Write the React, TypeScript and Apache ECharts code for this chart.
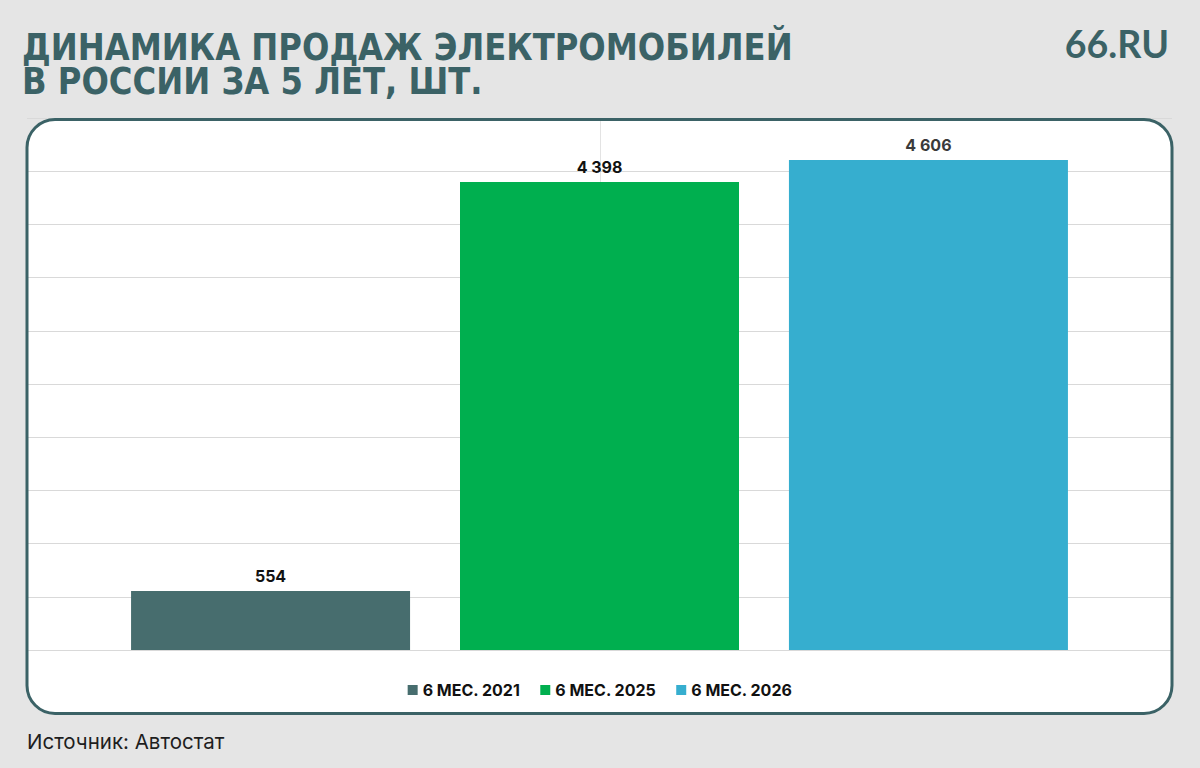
import { useEffect, useRef } from 'react';
import * as echarts from 'echarts';

const seriesNames = ['6 МЕС. 2021', '6 МЕС. 2025', '6 МЕС. 2026'];
const salesValues = [554, 4398, 4606];
const barColors = ['#476d6e', '#00af4f', '#36aecf'];
const labelColors = ['#111111', '#111111', '#3a3a3a'];

const titleLines = ['ДИНАМИКА ПРОДАЖ ЭЛЕКТРОМОБИЛЕЙ', 'В РОССИИ ЗА 5 ЛЕТ, ШТ.'];
const brandText = '66.RU';
const sourceText = 'Источник: Автостат';

const teal = '#3b6266';

export default function App() {
  const chartRef = useRef<HTMLDivElement>(null);

  useEffect(() => {
    document.body.style.margin = '0';
    if (!chartRef.current) return;
    const chart = echarts.init(chartRef.current, undefined, { renderer: 'svg' });

    const series = seriesNames.map((name, i) => ({
      name,
      type: 'bar' as const,
      data: [salesValues[i]],
      barWidth: 279,
      barGap: '17.9%',
      itemStyle: { color: barColors[i] },
      z: 5,
      label: {
        show: true,
        position: 'top' as const,
        distance: 7,
        color: labelColors[i],
        fontSize: 16,
        fontWeight: 'bold' as const,
        fontFamily: 'Inter, sans-serif',
        formatter: (p: any) => String(p.value).replace(/\B(?=(\d{3})+(?!\d))/g, ' '),
      },
    }));

    // title lines drawn separately, squeezed horizontally to look condensed
    const titleTexts = titleLines.map((line, i) => ({
      type: 'text' as const,
      x: 22,
      y: 29 + i * 34,
      scaleX: 0.872,
      style: {
        text: line,
        fill: teal,
        fontSize: 37,
        fontWeight: 'bold',
        fontFamily: '"DejaVu Sans", sans-serif',
      },
    }));

    chart.setOption({
      animation: false,
      backgroundColor: '#e5e5e5',
      grid: { left: 27, right: 28, top: 118, bottom: 118 },
      xAxis: {
        type: 'category',
        data: [''],
        axisLine: { show: false },
        axisTick: { show: false },
        axisLabel: { show: false },
      },
      yAxis: {
        type: 'value',
        min: 0,
        max: 5000,
        interval: 500,
        axisLabel: { show: false },
        axisLine: { show: false },
        axisTick: { show: false },
        splitLine: { lineStyle: { color: '#d9d9d9', width: 1 } },
      },
      legend: {
        data: seriesNames,
        top: 677,
        left: 'center',
        itemWidth: 10,
        itemHeight: 10,
        itemGap: 20,
        icon: 'rect',
        textStyle: {
          fontSize: 16,
          fontWeight: 'bold',
          color: '#111111',
          fontFamily: 'Inter, sans-serif',
        },
      },
      graphic: [
        {
          type: 'rect',
          z: -10,
          shape: { x: 27, y: 119.5, width: 1145, height: 594, r: 28 },
          style: { fill: '#ffffff' },
        },
        {
          type: 'line',
          z: -5,
          shape: { x1: 600.5, y1: 120, x2: 600.5, y2: 650 },
          style: { stroke: '#e3e3e3', lineWidth: 1 },
        },
        {
          type: 'rect',
          z: 100,
          shape: { x: 27, y: 119.5, width: 1145, height: 594, r: 28 },
          style: { fill: 'none', stroke: teal, lineWidth: 3 },
        },
        ...titleTexts,
        {
          type: 'text',
          right: 31,
          top: 24,
          style: {
            text: brandText,
            fill: teal,
            fontSize: 37.5,
            fontWeight: 'bold',
            fontFamily: 'Lato, "Open Sans", sans-serif',
          },
        },
        {
          type: 'text',
          left: 27,
          top: 731,
          style: {
            text: sourceText,
            fill: '#1e1e1e',
            fontSize: 20.5,
            fontFamily: 'Inter, "Open Sans", sans-serif',
          },
        },
      ],
      series,
    });

    return () => chart.dispose();
  }, []);

  return <div ref={chartRef} style={{ width: 1200, height: 768 }} />;
}
